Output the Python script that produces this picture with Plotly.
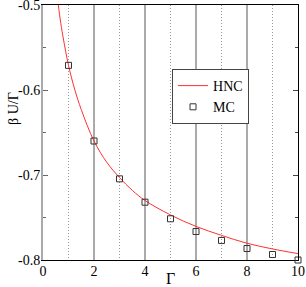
import plotly.graph_objects as go

# MC data
mc_gamma = [1, 2, 3, 4, 5, 6, 7, 8, 9, 10]
mc_u = [-0.571, -0.660, -0.7045, -0.732, -0.7515, -0.7665, -0.777, -0.7865, -0.7935, -0.800]

# HNC curve
hnc_gamma = [0.55, 0.6, 0.7, 0.8, 1.0, 1.25, 1.5, 2.0, 2.5, 3.0, 3.5, 4.0, 5.0, 6.0, 7.0, 8.0, 9.0, 10.0]
hnc_u = [-0.488, -0.500, -0.522, -0.540, -0.571, -0.600, -0.623, -0.660, -0.685, -0.703, -0.718, -0.730, -0.747, -0.7605, -0.771, -0.7803, -0.787, -0.7925]

x_ticks = [0, 2, 4, 6, 8, 10]
y_ticks = [-0.8, -0.7, -0.6, -0.5]

font = "Liberation Serif"

fig = go.Figure()
fig.add_trace(go.Scatter(x=hnc_gamma, y=hnc_u, mode="lines", name="HNC",
                         line=dict(color="#ff3030", width=1, shape="spline")))
fig.add_trace(go.Scatter(x=mc_gamma, y=mc_u, mode="markers", name="MC", cliponaxis=False,
                         marker=dict(symbol="square-open", size=6, color="#333333",
                                     line=dict(width=1, color="#333333"))))
# invisible trace for right axis
fig.add_trace(go.Scatter(x=[], y=[], yaxis="y2", showlegend=False))

fig.update_layout(
    width=306, height=287,
    margin=dict(l=43, r=8, t=5, b=27, autoexpand=False),
    plot_bgcolor="white", paper_bgcolor="white",
    font=dict(family=font, size=14, color="black"),
    showlegend=True,
    legend=dict(x=0.506, y=0.749, xanchor="left", yanchor="top",
                bordercolor="#444444", borderwidth=1, bgcolor="white",
                font=dict(size=14, family=font), itemwidth=30, tracegroupgap=0),
    xaxis=dict(range=[0, 10], tickvals=x_ticks, ticktext=[str(v) for v in x_ticks],
               showline=True, linecolor="black", linewidth=1, mirror=True,
               layer="below traces",
               showgrid=True, gridcolor="#aaaaaa", gridwidth=2,
               zeroline=False, ticks="", automargin=False,
               ticklabeloverflow="allow", ticklabelstandoff=-2,
               minor=dict(dtick=1, showgrid=True, gridcolor="#999999",
                          griddash="1px,2px", gridwidth=1),
               title=dict(text="Γ", font=dict(size=16, family=font), standoff=0),
               tickfont=dict(size=14, family=font)),
    yaxis=dict(range=[-0.8, -0.5], tickvals=y_ticks,
               ticktext=["-0.8", "-0.7", "-0.6", "-0.5"],
               showline=True, linecolor="#aaaaaa", linewidth=2, mirror=False,
               layer="below traces",
               showgrid=False, zeroline=False, automargin=False,
               ticklabeloverflow="allow", ticklabelstandoff=-2,
               ticks="inside", ticklen=5, tickcolor="#666666",
               minor=dict(dtick=0.05, ticks="inside", ticklen=3, tickcolor="#666666"),
               tickfont=dict(size=14, family=font)),
    yaxis2=dict(range=[-0.8, -0.5], overlaying="y", side="right",
                showline=True, linecolor="black", linewidth=1, automargin=False,
                showgrid=False, zeroline=False, showticklabels=False,
                tickvals=y_ticks, ticks="inside", ticklen=5, tickcolor="#444444",
                minor=dict(dtick=0.05, ticks="inside", ticklen=3, tickcolor="#444444")),
    annotations=[dict(text="β U/Γ", xref="paper", yref="paper", x=-0.118, y=0.596,
                      textangle=-90, showarrow=False, xanchor="center", yanchor="middle",
                      font=dict(size=14, family=font))],
)

fig.write_html("out.html", config={"displayModeBar": False},
               post_script="document.body.style.margin='0';document.body.style.overflow='hidden';")
